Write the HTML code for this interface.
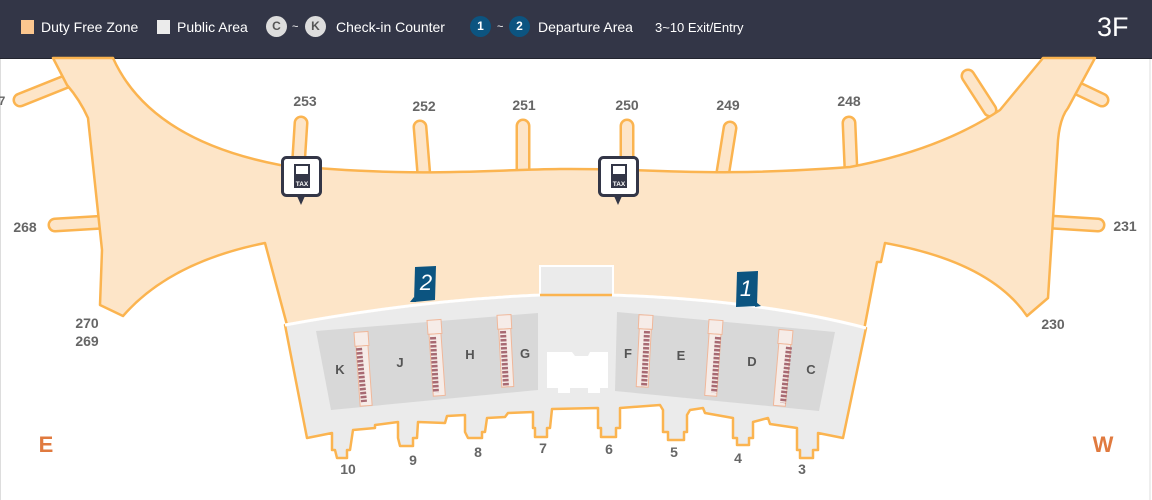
<!DOCTYPE html>
<html><head><meta charset="utf-8"><style>
html,body{margin:0;padding:0;background:#fff;}
body{width:1152px;height:500px;overflow:hidden;position:relative;font-family:"Liberation Sans",sans-serif;}
.hdr{position:absolute;left:0;top:0;width:1152px;height:58px;background:#333647;border-bottom:1px solid #23252f;}
.hdr span{position:absolute;top:19px;font-size:14px;color:#fff;}
.sq{position:absolute;top:20px;width:13px;height:14px;}
.ci{position:absolute;top:16px;width:21px;height:21px;border-radius:50%;font-size:12px;font-weight:bold;text-align:center;line-height:21px;}
</style></head><body>
<div class="hdr">
<div class="sq" style="left:21px;background:#fcc78f"></div><span style="left:41px">Duty Free Zone</span>
<div class="sq" style="left:157px;background:#ebebeb"></div><span style="left:177px">Public Area</span>
<div class="ci" style="left:266px;background:#ddd;color:#555">C</div><span style="left:292px;font-size:11px;top:21px">~</span>
<div class="ci" style="left:305px;background:#ddd;color:#555">K</div><span style="left:336px">Check-in Counter</span>
<div class="ci" style="left:470px;background:#0c5480;color:#fff">1</div><span style="left:497px;font-size:11px;top:21px">~</span>
<div class="ci" style="left:509px;background:#0c5480;color:#fff">2</div><span style="left:538px">Departure Area</span>
<span style="left:655px;font-size:13px;top:20px">3~10 Exit/Entry</span>
<span style="left:1097px;top:12px;font-size:27px">3F</span>
</div>
<svg width="1152" height="500" style="position:absolute;left:0;top:0" xmlns="http://www.w3.org/2000/svg">
<line x1="1150" y1="59" x2="1150" y2="500" stroke="#ddd"/>
<line x1="0.5" y1="59" x2="0.5" y2="500" stroke="#ddd"/>
<g stroke-linecap="round" fill="none">
<g stroke="#fbb450" stroke-width="15">
<line x1="70" y1="80" x2="20" y2="100"/><line x1="298" y1="170" x2="301" y2="123"/><line x1="424" y1="176" x2="420" y2="127"/>
<line x1="523" y1="172" x2="523" y2="126"/><line x1="627" y1="172" x2="627" y2="126"/><line x1="722" y1="178" x2="730" y2="128"/>
<line x1="851" y1="170" x2="849" y2="123"/><line x1="990" y1="110" x2="968" y2="76"/><line x1="1060" y1="80" x2="1102" y2="100"/>
<line x1="105" y1="222" x2="55" y2="225"/><line x1="1050" y1="222" x2="1098" y2="225"/>
</g>
<g stroke="#fde5c8" stroke-width="10">
<line x1="70" y1="80" x2="20" y2="100"/><line x1="298" y1="170" x2="301" y2="123"/><line x1="424" y1="176" x2="420" y2="127"/>
<line x1="523" y1="172" x2="523" y2="126"/><line x1="627" y1="172" x2="627" y2="126"/><line x1="722" y1="178" x2="730" y2="128"/>
<line x1="851" y1="170" x2="849" y2="123"/><line x1="990" y1="110" x2="968" y2="76"/><line x1="1060" y1="80" x2="1102" y2="100"/>
<line x1="105" y1="222" x2="55" y2="225"/><line x1="1050" y1="222" x2="1098" y2="225"/>
</g></g>
<path d="M53,58 L113,58 Q150,140 280,165 C420,178 480,170 560,169 C660,168 700,178 850,167 Q940,150 1000,110 L1043,58 L1095,58 L1068,108 Q1060,118 1058,140 L1048,298 L1027,316 Q990,262 885,243 L881,262 L877,262 L864,330 Q760,300 612,295 L540,295 Q420,300 287,325 L265,243 Q170,262 123,316 L100,305 L102,250 L88,118 Q80,100 67,85 Z" fill="#fde5c8" stroke="#fbb450" stroke-width="2.5" stroke-linejoin="round"/>
<rect x="540" y="266" width="73" height="32" fill="#ebebeb" stroke="#fff" stroke-width="2"/>
<path d="M285,325 Q420,300 540,295 L612,295 Q760,300 866,328 L843,438 L818,433 L818,450 L813,450 L813,458 L800,458 L800,450 L797,450 L797,428 L770,424 L768,418 L753,422 L753,438 L749,438 L749,445 L737,445 L737,438 L733,438 L733,418 L705,413 L703,408 L690,410 L687,415 L687,432 L684,432 L684,440 L668,440 L668,432 L663,432 L663,410 L660,405 L620,408 L620,428 L616,428 L616,437 L601,437 L601,428 L598,428 L598,408 L552,409 L550,428 L547,428 L547,437 L535,437 L535,428 L533,428 L533,412 L508,413 L505,417 L487,418 L485,432 L482,432 L482,438 L468,438 L465,432 L465,415 L447,416 L445,423 L418,422 L417,438 L413,438 L413,446 L400,446 L398,438 L398,422 L375,425 L375,428 L353,430 L350,450 L347,450 L347,458 L337,458 L335,450 L332,450 L332,433 L307,438 Z" fill="#ebebeb" stroke="#fbb450" stroke-width="2.5" stroke-linejoin="round"/>
<path d="M285,325 Q420,300 540,295 M612,295 Q760,300 866,328" fill="none" stroke="#fff" stroke-width="3"/>
<polygon points="316,331 538,313 538,390 331,410" fill="#d8d8d8"/>
<polygon points="617,312 835,332 819,411 615,391" fill="#d8d8d8"/>
<path d="M547,352 L572,352 L575,356 L588,356 L590,352 L608,352 L608,388 L600,388 L600,393 L588,393 L588,388 L570,388 L570,393 L558,393 L558,388 L547,388 Z" fill="#fff"/>
<g fill="#f6ece8" stroke="#f0b79a" stroke-width="1">
<g transform="translate(360,332) rotate(-4)"><rect x="-6" y="0" width="14" height="14"/><rect x="-5" y="14" width="12" height="60"/></g>
<g transform="translate(433,320) rotate(-4)"><rect x="-6" y="0" width="14" height="14"/><rect x="-5" y="14" width="12" height="62"/></g>
<g transform="translate(503,315) rotate(-3)"><rect x="-6" y="0" width="14" height="14"/><rect x="-5" y="14" width="12" height="58"/></g>
<g transform="translate(645,315) rotate(3)"><rect x="-6" y="0" width="14" height="14"/><rect x="-5" y="14" width="12" height="58"/></g>
<g transform="translate(715,320) rotate(4)"><rect x="-6" y="0" width="14" height="14"/><rect x="-5" y="14" width="12" height="62"/></g>
<g transform="translate(785,330) rotate(5)"><rect x="-6" y="0" width="14" height="14"/><rect x="-5" y="14" width="12" height="62"/></g>
</g>
<g fill="none" stroke="#a86a73" stroke-width="6" stroke-dasharray="2.5 1.5">
<line x1="359" y1="348" x2="364" y2="402"/><line x1="433" y1="337" x2="436" y2="393"/><line x1="503" y1="331" x2="506" y2="387"/>
<line x1="647" y1="331" x2="644" y2="387"/><line x1="718" y1="337" x2="714" y2="393"/><line x1="789" y1="347" x2="783" y2="403"/>
</g>
<g font-family="Liberation Sans,sans-serif" font-weight="bold" font-size="13" fill="#555" text-anchor="middle">
<text x="340" y="374">K</text><text x="400" y="367">J</text><text x="470" y="359">H</text><text x="525" y="358">G</text>
<text x="628" y="358">F</text><text x="681" y="360">E</text><text x="752" y="366">D</text><text x="811" y="374">C</text>
</g>
<g font-family="Liberation Sans,sans-serif" font-weight="bold" font-size="14" fill="#666" text-anchor="middle">
<text x="305" y="106">253</text><text x="424" y="111">252</text><text x="524" y="110">251</text><text x="627" y="110">250</text>
<text x="728" y="110">249</text><text x="849" y="106">248</text><text x="25" y="232">268</text><text x="1125" y="231">231</text>
<text x="87" y="328">270</text><text x="87" y="346">269</text><text x="1053" y="329">230</text>
<text x="348" y="474">10</text><text x="413" y="465">9</text><text x="478" y="457">8</text><text x="543" y="453">7</text>
<text x="609" y="454">6</text><text x="674" y="457">5</text><text x="738" y="463">4</text><text x="802" y="474">3</text>
<text x="2" y="105" font-size="12">7</text>
</g>
<g font-family="Liberation Sans,sans-serif" font-weight="bold" font-size="22" fill="#e07a3f" text-anchor="middle">
<text x="46" y="452">E</text><text x="1103" y="452">W</text>
</g>
<g>
<rect x="282.5" y="157.5" width="38" height="38" rx="4" fill="#fff" stroke="#333647" stroke-width="3"/>
<path d="M297,196 L301,205 L305,196 Z" fill="#333647"/>
<rect x="294" y="164" width="16" height="24" fill="#333647"/>
<rect x="296" y="166" width="12" height="8" fill="#fff"/>
<text x="302" y="186" font-family="Liberation Sans,sans-serif" font-size="6.5" font-weight="bold" fill="#fff" text-anchor="middle">TAX</text>
<rect x="599.5" y="157.5" width="38" height="38" rx="4" fill="#fff" stroke="#333647" stroke-width="3"/>
<path d="M614,196 L618,205 L622,196 Z" fill="#333647"/>
<rect x="611" y="164" width="16" height="24" fill="#333647"/>
<rect x="613" y="166" width="12" height="8" fill="#fff"/>
<text x="619" y="186" font-family="Liberation Sans,sans-serif" font-size="6.5" font-weight="bold" fill="#fff" text-anchor="middle">TAX</text>
</g>
<g font-family="Liberation Sans,sans-serif" font-style="italic" font-size="22" fill="#fff" text-anchor="middle">
<polygon points="415,267 436,266 435,300 414,302" fill="#0c5480"/><path d="M414,297 L410,302 L416,302Z" fill="#0c5480"/>
<text x="426" y="290">2</text>
<polygon points="737,272 758,271 757,306 736,307" fill="#0c5480"/><path d="M756,302 L761,306 L755,307Z" fill="#0c5480"/>
<text x="746" y="296">1</text>
</g>
</svg>
</body></html>
